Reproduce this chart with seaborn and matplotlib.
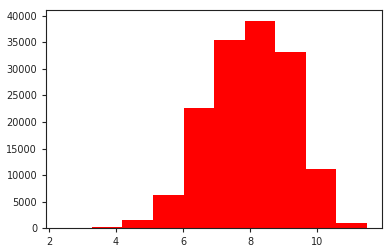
import matplotlib
matplotlib.use("Agg")
import matplotlib.pyplot as plt
import seaborn as sns
import numpy as np

# Histogram bins (edges) and counts
bin_edges = [2.37, 3.28, 4.19, 5.10, 6.01, 6.92, 7.83, 8.74, 9.65, 10.56, 11.47]
counts = [10, 180, 1600, 6250, 22550, 35500, 39100, 33250, 11150, 980]
bin_centers = [(a + b) / 2 for a, b in zip(bin_edges[:-1], bin_edges[1:])]

sns.set_style("ticks")
plt.rcParams['font.family'] = ['DejaVu Sans']

fig = plt.figure(figsize=(3.91, 2.52), dpi=100)
ax = fig.add_axes([0.118, 0.095, 0.859, 0.865])
sns.histplot(x=bin_centers, weights=counts, bins=bin_edges, color="red",
             alpha=1, edgecolor="none", linewidth=0, ax=ax)
ax.set_xlabel("")
ax.set_ylabel("")
ax.set_xticks([2, 4, 6, 8, 10])
ax.set_yticks(range(0, 40001, 5000))
ax.tick_params(labelsize=7, length=3, width=0.8, colors="#222222")
for s in ax.spines.values():
    s.set_visible(True)
    s.set_linewidth(0.8)
    s.set_color("#222222")
ax.margins(x=0.05, y=0.05)
ax.set_ylim(0, 41100)
fig.savefig("out.png", dpi=100)
